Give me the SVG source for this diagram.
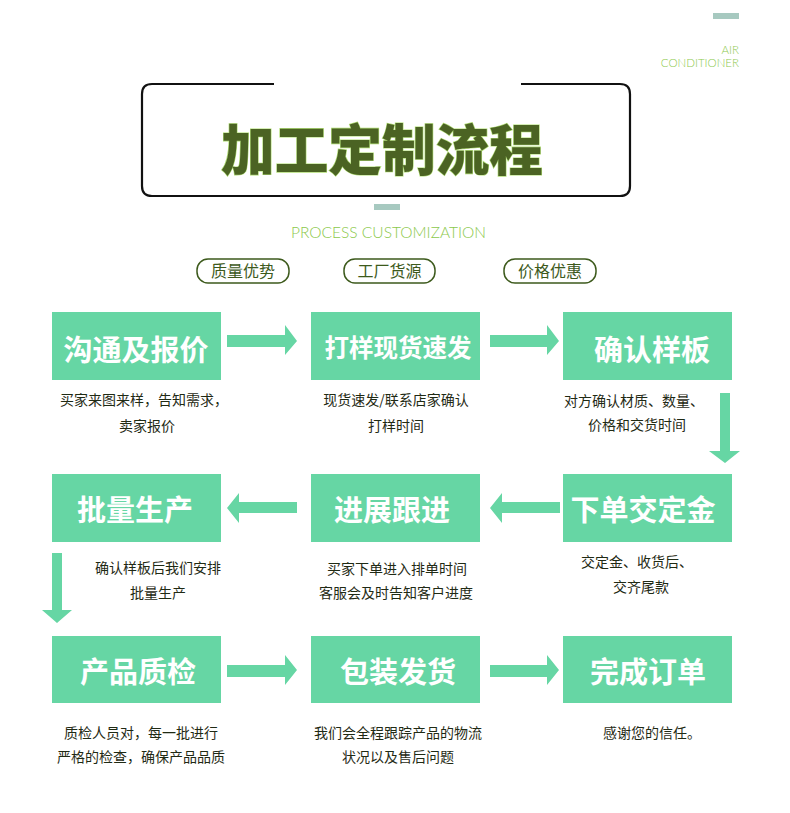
<svg xmlns="http://www.w3.org/2000/svg" width="790" height="813" viewBox="0 0 790 813">
<style>
.box{fill:#66d6a4}
.arrow{fill:#66d6a4}
.bt{font-family:"Noto Sans CJK SC",sans-serif;font-weight:700;fill:#ffffff;text-anchor:middle}
.d{font-family:"Noto Sans CJK SC",sans-serif;font-size:14px;fill:#1f2a14;text-anchor:middle}
.pill{fill:#ffffff;stroke:#3d5a1c;stroke-width:1.5}
.pt{font-family:"Noto Sans CJK SC",sans-serif;font-size:16px;fill:#3d5a1c;text-anchor:middle}
.en{font-family:"Lato","Open Sans",sans-serif;font-weight:300;fill:#8cc94c}
</style>
<rect width="790" height="813" fill="#ffffff"/>
<g id="header">
<rect x="713" y="13" width="26" height="6" fill="#a7c9c0"/>
<text class="en" x="739" y="54" font-size="11.5" text-anchor="end">AIR</text>
<text class="en" x="739" y="67" font-size="11.5" text-anchor="end">CONDITIONER</text>
<path d="M274 84 H152 Q142 84 142 94 V186 Q142 196 152 196 H620 Q630 196 630 186 V94 Q630 84 620 84 H521" fill="none" stroke="#111111" stroke-width="2.2"/>
<text x="382" y="170" font-family="Noto Sans CJK SC,sans-serif" font-weight="900" font-size="55" fill="#4b6323" stroke="#b5e07a" stroke-width="1.2" paint-order="stroke" text-anchor="middle" textLength="322" lengthAdjust="spacingAndGlyphs">加工定制流程</text>
<rect x="374" y="204" width="26" height="6" fill="#a7c9c0"/>
<text class="en" x="388.5" y="238" font-size="16.5" text-anchor="middle" textLength="195" lengthAdjust="spacingAndGlyphs">PROCESS CUSTOMIZATION</text>
</g>
<g id="pill1"><rect class="pill" x="197" y="259" width="92" height="24" rx="11"/><text class="pt" x="243" y="277">质量优势</text></g>
<g id="pill2"><rect class="pill" x="344" y="259" width="91" height="24" rx="11"/><text class="pt" x="389.5" y="277">工厂货源</text></g>
<g id="pill3"><rect class="pill" x="504" y="259" width="92" height="24" rx="11"/><text class="pt" x="550" y="277">价格优惠</text></g>

<g id="n1"><rect class="box" x="52" y="312" width="169" height="68"/><text class="bt" x="136" y="361" font-size="29">沟通及报价</text>
<text class="d" x="144" y="405">买家来图来样，告知需求，</text><text class="d" x="147" y="431">卖家报价</text></g>
<g id="n2"><rect class="box" x="311" y="312" width="169" height="68"/><text class="bt" x="398" y="357" font-size="24.5">打样现货速发</text>
<text class="d" x="396" y="405">现货速发/联系店家确认</text><text class="d" x="396" y="431">打样时间</text></g>
<g id="n3"><rect class="box" x="563" y="312" width="169" height="68"/><text class="bt" x="652" y="361" font-size="29">确认样板</text>
<text class="d" x="634" y="406">对方确认材质、数量、</text><text class="d" x="637" y="430">价格和交货时间</text></g>

<g id="n4"><rect class="box" x="52" y="474" width="169" height="68"/><text class="bt" x="135" y="521" font-size="29">批量生产</text>
<text class="d" x="158" y="573">确认样板后我们安排</text><text class="d" x="158" y="598">批量生产</text></g>
<g id="n5"><rect class="box" x="311" y="474" width="169" height="68"/><text class="bt" x="392" y="521" font-size="29">进展跟进</text>
<text class="d" x="397" y="574">买家下单进入排单时间</text><text class="d" x="396" y="598">客服会及时告知客户进度</text></g>
<g id="n6"><rect class="box" x="563" y="474" width="169" height="68"/><text class="bt" x="643" y="521" font-size="29">下单交定金</text>
<text class="d" x="637" y="567">交定金、收货后、</text><text class="d" x="641" y="592">交齐尾款</text></g>

<g id="n7"><rect class="box" x="52" y="636" width="169" height="67"/><text class="bt" x="138" y="683" font-size="29">产品质检</text>
<text class="d" x="141" y="738">质检人员对，每一批进行</text><text class="d" x="141" y="762">严格的检查，确保产品品质</text></g>
<g id="n8"><rect class="box" x="311" y="636" width="169" height="67"/><text class="bt" x="398" y="683" font-size="29">包装发货</text>
<text class="d" x="398" y="738">我们会全程跟踪产品的物流</text><text class="d" x="398" y="762">状况以及售后问题</text></g>
<g id="n9"><rect class="box" x="563" y="636" width="169" height="67"/><text class="bt" x="648" y="683" font-size="29">完成订单</text>
<text class="d" x="652" y="738">感谢您的信任。</text></g>

<g id="connectors">
<polygon class="arrow" points="227,335 285,335 285,325 297,341 285,355 285,347 227,347"/>
<polygon class="arrow" points="490,335 547,335 547,325 559,341 547,355 547,347 490,347"/>
<polygon class="arrow" points="720,393 730,393 730,451 740,451 725,463 709,451 720,451"/>
<polygon class="arrow" points="297,502 239,502 239,493 227,508 239,523 239,513 297,513"/>
<polygon class="arrow" points="560,502 502,502 502,493 490,508 502,523 502,513 560,513"/>
<polygon class="arrow" points="52,553 62,553 62,610 72,610 57,623 42,610 52,610"/>
<polygon class="arrow" points="227,665 285,665 285,655 297,670 285,685 285,677 227,677"/>
<polygon class="arrow" points="490,665 547,665 547,655 559,670 547,685 547,677 490,677"/>
</g>
</svg>
